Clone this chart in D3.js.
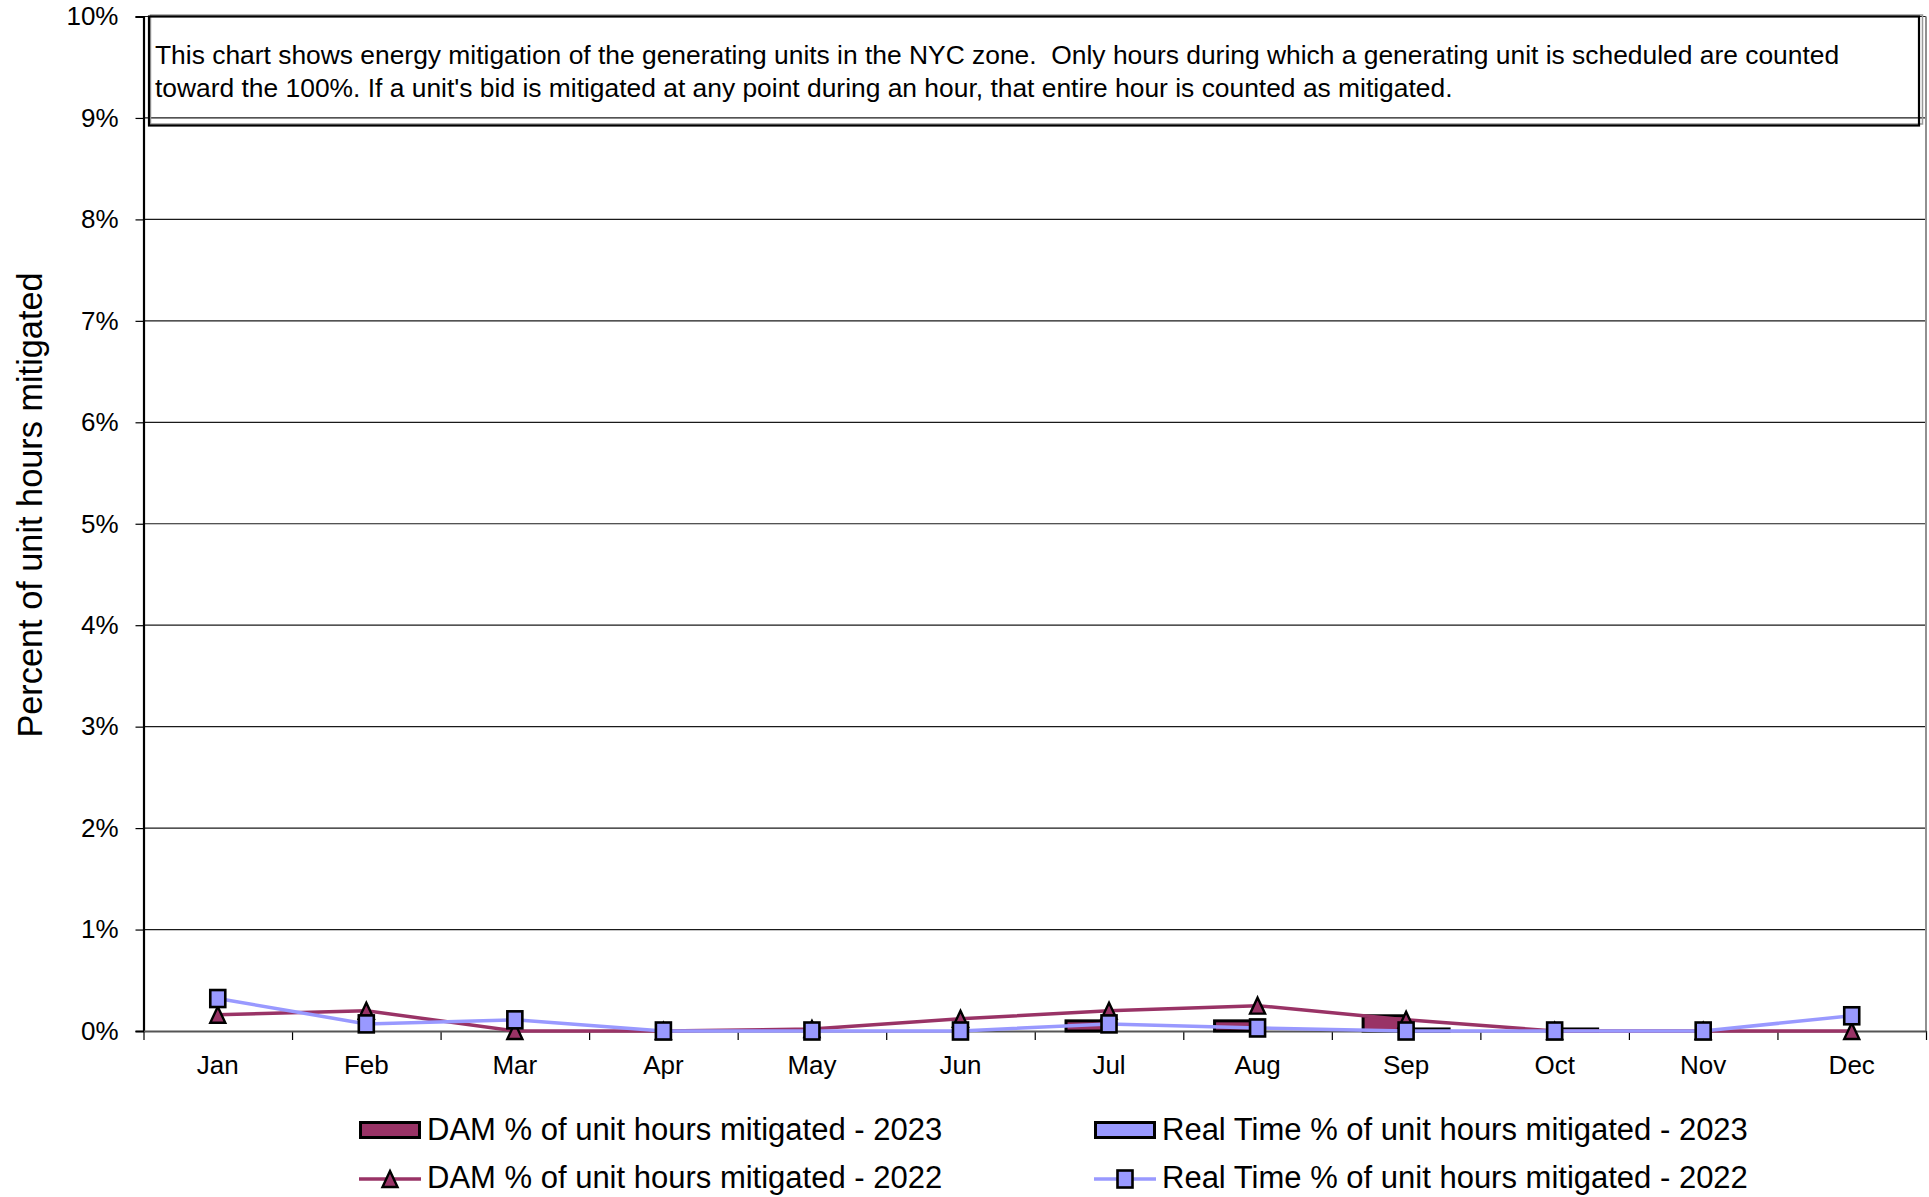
<!DOCTYPE html>
<html>
<head>
<meta charset="utf-8">
<script src="https://cdn.jsdelivr.net/npm/d3@7"></script>
<style>
  html, body { margin: 0; padding: 0; background: #fff; }
  svg { display: block; font-family: "Liberation Sans", Arial, sans-serif; }
</style>
</head>
<body>
<svg id="chart" width="1929" height="1197"></svg>
<script>
// Monthly categories
const months = ["Jan", "Feb", "Mar", "Apr", "May", "Jun", "Jul", "Aug", "Sep", "Oct", "Nov", "Dec"];

// 2023 values (bars), percent of unit hours mitigated; null = no data yet
const dam2023 = [0, 0, 0, 0, 0, 0, 0.10, 0.10, 0.15, 0, null, null];
const rt2023  = [0, 0, 0, 0, 0, 0, 0, 0, 0.02, 0.02, null, null];

// 2022 values (lines with markers)
const dam2022 = [0.16, 0.20, 0, 0, 0.02, 0.12, 0.20, 0.25, 0.11, 0, 0, 0];
const rt2022  = [0.32, 0.07, 0.11, 0, 0, 0, 0.07, 0.03, 0, 0, 0, 0.15];

// Axis ticks
const yTicks = [0, 1, 2, 3, 4, 5, 6, 7, 8, 9, 10];

// Legend labels
const legendLabels = [
  "DAM % of unit hours mitigated - 2023",
  "Real Time % of unit hours mitigated - 2023",
  "DAM % of unit hours mitigated - 2022",
  "Real Time % of unit hours mitigated - 2022"
];

// Note shown in the box at the top of the plot
const noteLines = [
  "This chart shows energy mitigation of the generating units in the NYC zone.  Only hours during which a generating unit is scheduled are counted",
  "toward the 100%. If a unit's bid is mitigated at any point during an hour, that entire hour is counted as mitigated."
];

const DAM_COLOR = "#993366";
const RT_COLOR = "#9999FF";

const svg = d3.select("#chart");

const plot = { left: 143.5, right: 1926, top: 16.5, bottom: 1031 };

const x = d3.scaleBand().domain(months).range([plot.left, plot.right]).padding(0);
const y = d3.scaleLinear().domain([0, 10]).range([plot.bottom, plot.top]);
const barW = 43;
const sub = d3.scaleBand().domain(["dam", "rt"])
  .range([x.bandwidth() / 2 - barW, x.bandwidth() / 2 + barW]).padding(0);

// Horizontal gridlines
svg.append("g")
  .selectAll("line")
  .data(yTicks.filter(d => d > 0))
  .join("line")
  .attr("x1", plot.left).attr("x2", plot.right)
  .attr("y1", d => y(d)).attr("y2", d => y(d))
  .attr("stroke", "#1a1a1a").attr("stroke-width", 1.2);

// Right-hand plot border
svg.append("line")
  .attr("x1", plot.right).attr("x2", plot.right)
  .attr("y1", plot.top).attr("y2", plot.bottom)
  .attr("stroke", "#909090").attr("stroke-width", 2);

// Y axis
const yAxis = svg.append("g")
  .attr("transform", `translate(${plot.left},0)`)
  .call(d3.axisLeft(y).tickValues(yTicks).tickFormat(d => d + "%").tickSize(8).tickPadding(17));
yAxis.select(".domain").attr("stroke", "#000").attr("stroke-width", 2.2);
yAxis.selectAll(".tick line").attr("stroke", "#000").attr("stroke-width", 1.2);
yAxis.selectAll(".tick text")
  .attr("font-size", 26).attr("fill", "#000")
  .attr("font-family", "'Liberation Sans', Arial, sans-serif");

// X axis: category boundary ticks
const xEdge = d3.scaleLinear().domain([0, months.length]).range([plot.left, plot.right]);
const xTickAxis = svg.append("g")
  .attr("transform", `translate(0,${plot.bottom})`)
  .call(d3.axisBottom(xEdge).tickValues(d3.range(0, months.length + 1)).tickFormat("").tickSize(9).tickSizeOuter(0));
xTickAxis.select(".domain").remove();
xTickAxis.selectAll(".tick line").attr("stroke", "#000").attr("stroke-width", 1.2);

// X axis: month labels
const xAxis = svg.append("g")
  .attr("transform", `translate(0,${plot.bottom})`)
  .call(d3.axisBottom(x).tickSize(0).tickPadding(24.5));
xAxis.select(".domain").attr("stroke", "#555").attr("stroke-width", 2);
xAxis.selectAll(".tick text")
  .attr("font-size", 26).attr("fill", "#000")
  .attr("font-family", "'Liberation Sans', Arial, sans-serif");

// Y axis title
svg.append("text")
  .attr("transform", `translate(42,505) rotate(-90)`)
  .attr("text-anchor", "middle")
  .attr("font-size", 34.3)
  .text("Percent of unit hours mitigated");

// 2023 bars
const barSeries = [
  { key: "dam", values: dam2023, color: DAM_COLOR },
  { key: "rt", values: rt2023, color: RT_COLOR }
];
barSeries.forEach(s => {
  svg.append("g")
    .selectAll("rect")
    .data(months.map((m, i) => ({ m, v: s.values[i] })).filter(d => d.v !== null))
    .join("rect")
    .attr("x", d => x(d.m) + sub(s.key))
    .attr("width", sub.bandwidth())
    .attr("y", d => y(d.v))
    .attr("height", d => y(0) - y(d.v))
    .attr("fill", s.color)
    .attr("stroke", "#000")
    .attr("stroke-width", 3);
});

// 2022 lines
const cx = m => x(m) + x.bandwidth() / 2;
const line = d3.line().x(d => cx(d.m)).y(d => y(d.v));
const lineSeries = [
  { values: dam2022, color: DAM_COLOR, marker: "triangle" },
  { values: rt2022, color: RT_COLOR, marker: "square" }
];
lineSeries.forEach(s => {
  svg.append("path")
    .datum(months.map((m, i) => ({ m, v: s.values[i] })))
    .attr("d", line)
    .attr("fill", "none")
    .attr("stroke", s.color)
    .attr("stroke-width", 3.5);
});

// Marker shapes
function triPath(w, h) {
  return `M0,${-h / 2}L${w / 2},${h / 2}L${-w / 2},${h / 2}Z`;
}
function drawMarker(g, kind) {
  if (kind === "triangle") {
    g.append("path").attr("d", triPath(15, 16))
      .attr("fill", DAM_COLOR).attr("stroke", "#000").attr("stroke-width", 2.4)
      .attr("stroke-linejoin", "miter");
  } else {
    g.append("rect").attr("x", -7.5).attr("y", -8.5).attr("width", 15).attr("height", 17)
      .attr("fill", RT_COLOR).attr("stroke", "#000").attr("stroke-width", 2.6);
  }
}
lineSeries.forEach(s => {
  months.forEach((m, i) => {
    const g = svg.append("g").attr("transform", `translate(${cx(m)},${y(s.values[i])})`);
    drawMarker(g, s.marker);
  });
});

// Note box
const box = { x: 149, y: 16.5, w: 1770, h: 109 };
svg.append("rect")
  .attr("x", box.x + 1.5).attr("y", box.y - 1.5).attr("width", box.w + 2).attr("height", box.h)
  .attr("fill", "none").attr("stroke", "#9a9a9a").attr("stroke-width", 1.5);
svg.append("rect")
  .attr("x", box.x).attr("y", box.y).attr("width", box.w).attr("height", box.h)
  .attr("fill", "none").attr("stroke", "#000").attr("stroke-width", 2.2);
svg.append("g")
  .selectAll("text")
  .data(noteLines)
  .join("text")
  .attr("x", box.x + 6)
  .attr("y", (d, i) => 64 + i * 32.5)
  .attr("font-size", 26.4)
  .style("white-space", "pre")
  .text(d => d);

// Legend
const legendItems = [
  { label: legendLabels[0], kind: "bar", color: DAM_COLOR, x: 359, y: 1140 },
  { label: legendLabels[1], kind: "bar", color: RT_COLOR, x: 1094, y: 1140 },
  { label: legendLabels[2], kind: "line", color: DAM_COLOR, marker: "triangle", x: 359, y: 1188 },
  { label: legendLabels[3], kind: "line", color: RT_COLOR, marker: "square", x: 1094, y: 1188 }
];
legendItems.forEach(it => {
  const g = svg.append("g").attr("transform", `translate(${it.x},${it.y})`);
  if (it.kind === "bar") {
    g.append("rect").attr("x", 1.5).attr("y", -17.5).attr("width", 59).attr("height", 15)
      .attr("fill", it.color).attr("stroke", "#000").attr("stroke-width", 3);
  } else {
    g.append("line").attr("x1", 0).attr("x2", 62).attr("y1", -9).attr("y2", -9)
      .attr("stroke", it.color).attr("stroke-width", 3.5);
    const mg = g.append("g").attr("transform", "translate(31,-9)");
    drawMarker(mg, it.marker);
  }
  g.append("text").attr("x", 68).attr("y", 0).attr("font-size", 31).text(it.label);
});
</script>
</body>
</html>
